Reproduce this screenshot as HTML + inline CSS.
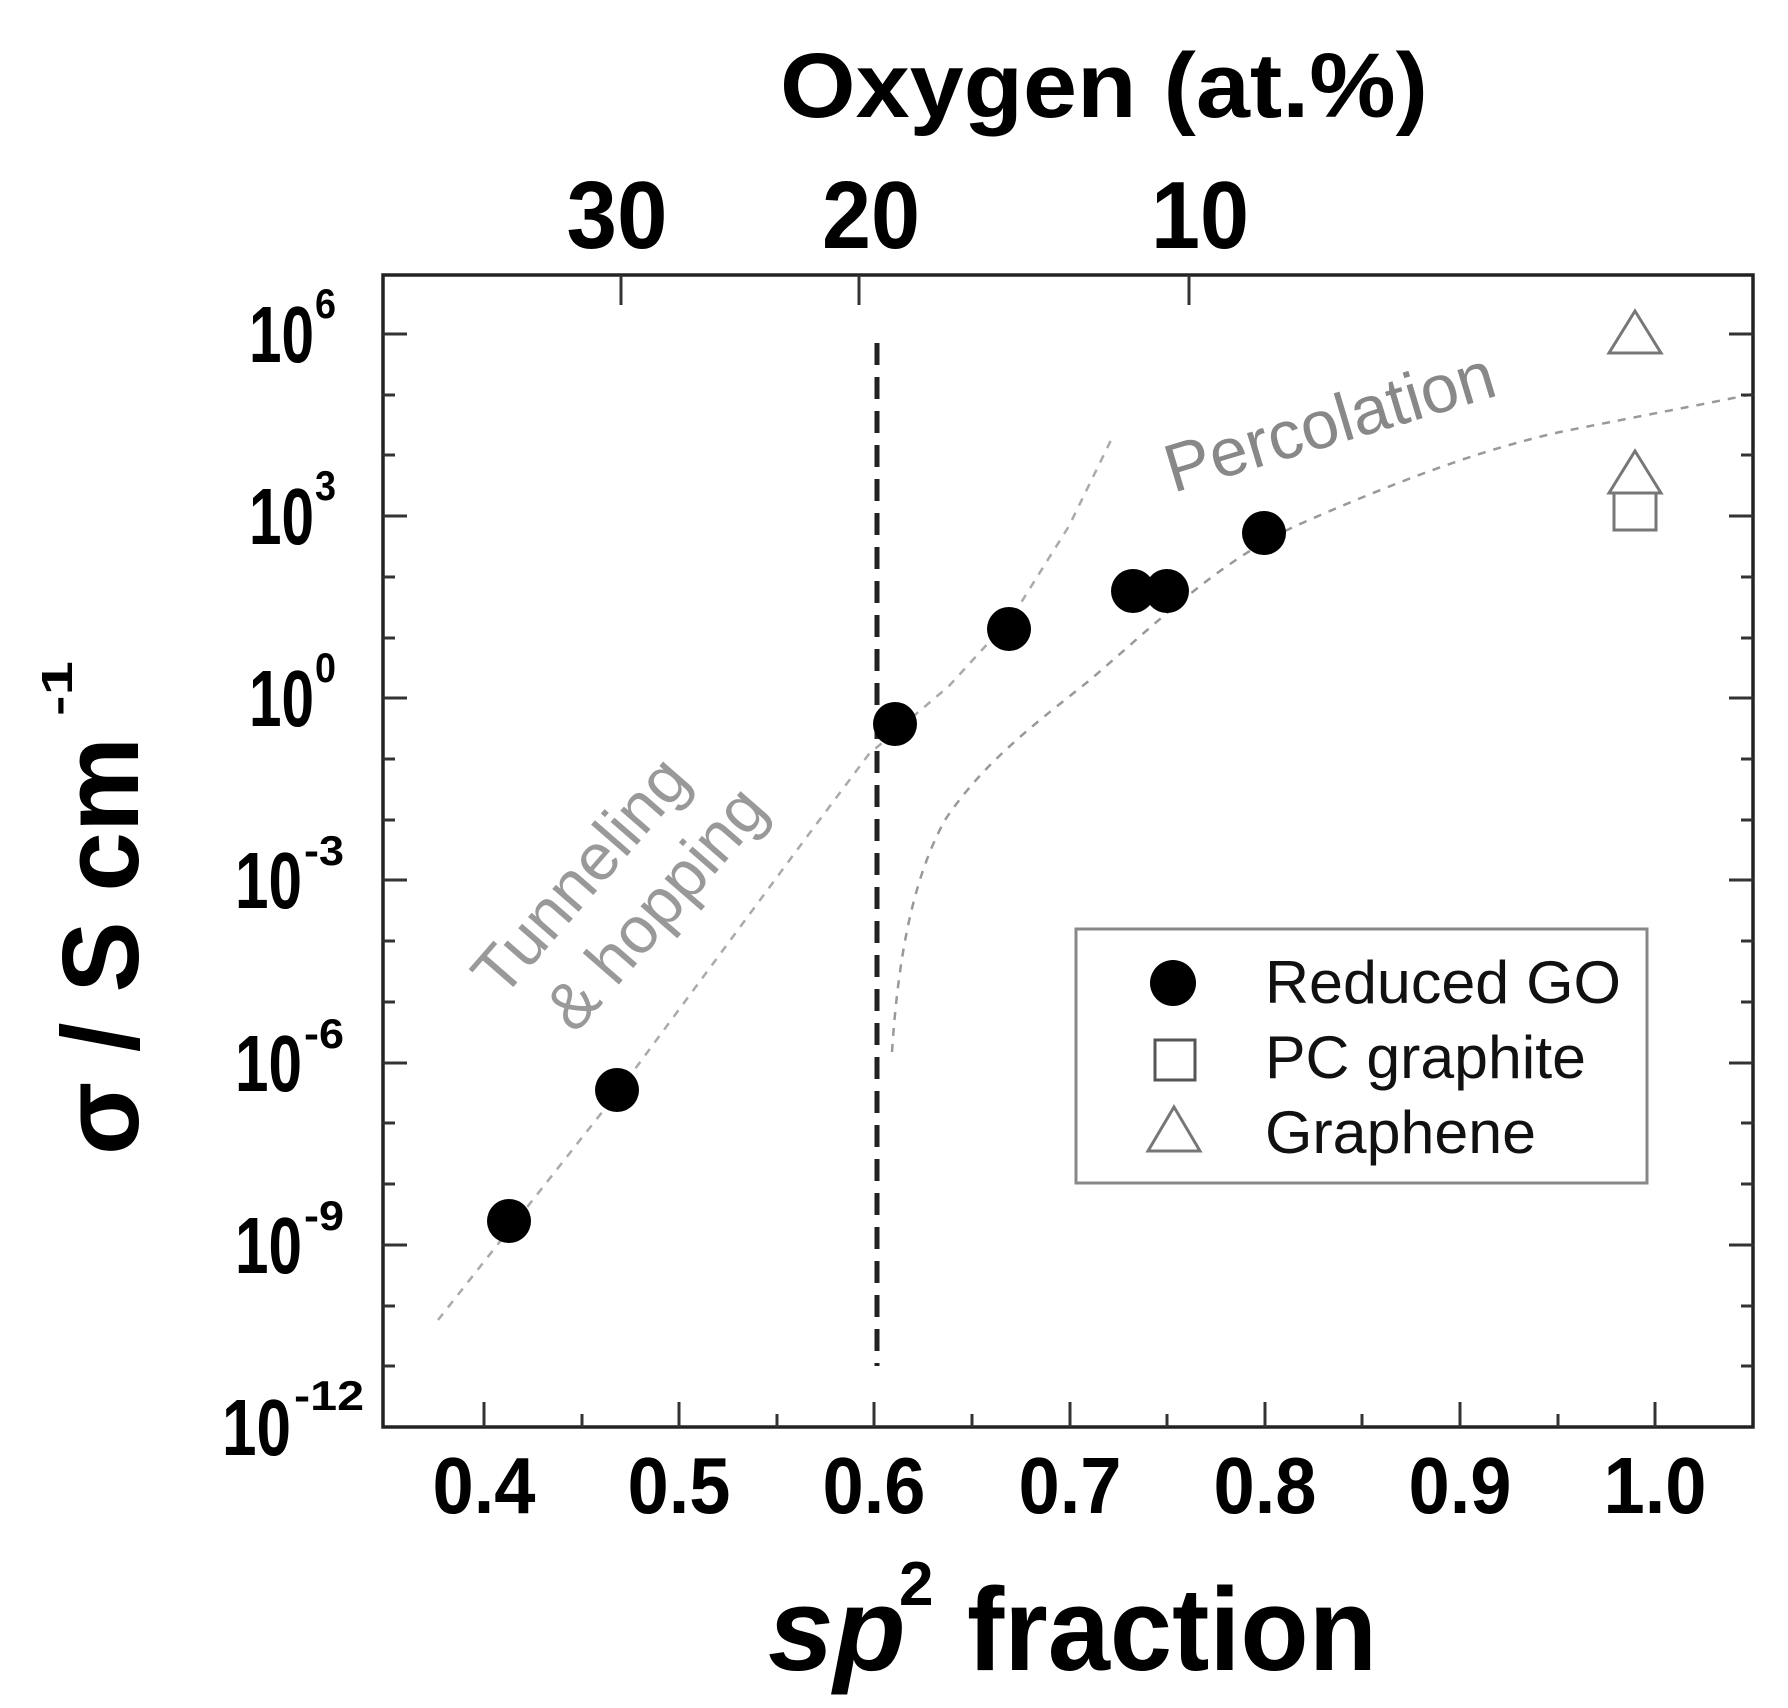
<!DOCTYPE html>
<html><head><meta charset="utf-8"><style>html,body{margin:0;padding:0;background:#fff;}svg{display:block;}</style></head>
<body>
<svg width="1788" height="1708" viewBox="0 0 1788 1708" xmlns="http://www.w3.org/2000/svg" font-family="'Liberation Sans', Arial, sans-serif">
<rect width="1788" height="1708" fill="#fff"/>
<!-- curves -->
<polyline points="438,1320 618,1092 800,846 869,754 949,686 1012,617 1069,526 1114,434" fill="none" stroke="#aaa" stroke-width="2.5" stroke-dasharray="8 8"/>
<path d="M892,1052 C898,960 912,880 945,820 C985,760 1040,720 1090,680 C1160,620 1220,560 1300,524 C1400,480 1480,450 1560,432 C1640,416 1700,405 1753,394" fill="none" stroke="#999" stroke-width="2.5" stroke-dasharray="8 8"/>
<!-- vertical dashed -->
<line x1="877" y1="343" x2="877" y2="1366" stroke="#222" stroke-width="5" stroke-dasharray="22 12"/>
<!-- frame -->
<rect x="383" y="275" width="1370" height="1152" fill="none" stroke="#222" stroke-width="3.5"/>
<g stroke="#333" stroke-width="3">
<path d="M383 334h24M383 516h24M383 698h24M383 880h24M383 1063h24M383 1245h24"/>
<path d="M1753 334h-24M1753 516h-24M1753 698h-24M1753 880h-24M1753 1063h-24M1753 1245h-24"/>
<path d="M383 395h12M383 455h12M383 577h12M383 638h12M383 759h12M383 820h12M383 941h12M383 1002h12M383 1123h12M383 1184h12M383 1306h12M383 1366h12"/>
<path d="M1753 395h-12M1753 455h-12M1753 577h-12M1753 638h-12M1753 759h-12M1753 820h-12M1753 941h-12M1753 1002h-12M1753 1123h-12M1753 1184h-12M1753 1306h-12M1753 1366h-12"/>
<path d="M484 1427v-25M679 1427v-25M874 1427v-25M1070 1427v-25M1265 1427v-25M1460 1427v-25M1655 1427v-25"/>
<path d="M582 1427v-13M777 1427v-13M972 1427v-13M1167 1427v-13M1362 1427v-13M1558 1427v-13"/>
<path d="M621 275v30M859 275v30M1189 275v30"/>
</g>
<!-- data -->
<g fill="#000">
<circle cx="509" cy="1221" r="22"/>
<circle cx="617" cy="1090" r="22"/>
<circle cx="895" cy="724" r="22"/>
<circle cx="1009" cy="629" r="22"/>
<circle cx="1133" cy="591" r="22"/>
<circle cx="1167" cy="591" r="22"/>
<circle cx="1264" cy="533" r="22"/>
</g>
<g fill="none" stroke="#777" stroke-width="3">
<path d="M1635,311 L1661,353 L1609,353 Z"/>
<path d="M1635,451 L1661,493 L1609,493 Z"/>
<rect x="1614" y="493" width="42" height="37"/>
</g>
<!-- legend -->
<rect x="1076" y="929" width="571" height="254" fill="none" stroke="#888" stroke-width="3"/>
<circle cx="1173" cy="983" r="23" fill="#000"/>
<rect x="1155" y="1040" width="40" height="40" fill="none" stroke="#555" stroke-width="3"/>
<path d="M1174,1107 L1200,1151 L1148,1151 Z" fill="none" stroke="#777" stroke-width="3"/>
<g font-size="60" fill="#111">
<text x="1265" y="1003" textLength="356" lengthAdjust="spacingAndGlyphs">Reduced GO</text>
<text x="1265" y="1078" textLength="321" lengthAdjust="spacingAndGlyphs">PC graphite</text>
<text x="1265" y="1153" textLength="271" lengthAdjust="spacingAndGlyphs">Graphene</text>
</g>
<!-- annotations -->
<text transform="translate(1173,493) rotate(-16.7)" font-size="68" fill="#888" textLength="341" lengthAdjust="spacingAndGlyphs">Percolation</text>
<text transform="translate(502,1000) rotate(-49)" font-size="66" fill="#999" textLength="290" lengthAdjust="spacingAndGlyphs">Tunneling</text>
<text transform="translate(575,1035) rotate(-49)" font-size="66" fill="#999" textLength="297" lengthAdjust="spacingAndGlyphs">&amp; hopping</text>
<!-- top axis -->
<text x="780" y="117" font-size="92" font-weight="bold" textLength="648" lengthAdjust="spacingAndGlyphs">Oxygen (at.%)</text>
<g font-size="96" font-weight="bold" text-anchor="middle">
<text x="617" y="248" textLength="101" lengthAdjust="spacingAndGlyphs">30</text>
<text x="871" y="248" textLength="98" lengthAdjust="spacingAndGlyphs">20</text>
<text x="1200" y="248" textLength="98" lengthAdjust="spacingAndGlyphs">10</text>
</g>
<!-- bottom labels -->
<g font-size="80" font-weight="bold" text-anchor="middle">
<text x="484" y="1513" textLength="103" lengthAdjust="spacingAndGlyphs">0.4</text>
<text x="679" y="1513" textLength="103" lengthAdjust="spacingAndGlyphs">0.5</text>
<text x="874" y="1513" textLength="103" lengthAdjust="spacingAndGlyphs">0.6</text>
<text x="1070" y="1513" textLength="103" lengthAdjust="spacingAndGlyphs">0.7</text>
<text x="1265" y="1513" textLength="103" lengthAdjust="spacingAndGlyphs">0.8</text>
<text x="1460" y="1513" textLength="103" lengthAdjust="spacingAndGlyphs">0.9</text>
<text x="1655" y="1513" textLength="103" lengthAdjust="spacingAndGlyphs">1.0</text>
</g>
<!-- y labels -->
<g font-weight="bold">
<g font-size="80">
<text x="249" y="362" textLength="65" lengthAdjust="spacingAndGlyphs">10</text>
<text x="249" y="544" textLength="65" lengthAdjust="spacingAndGlyphs">10</text>
<text x="249" y="726" textLength="65" lengthAdjust="spacingAndGlyphs">10</text>
<text x="235" y="908" textLength="67" lengthAdjust="spacingAndGlyphs">10</text>
<text x="235" y="1091" textLength="67" lengthAdjust="spacingAndGlyphs">10</text>
<text x="235" y="1273" textLength="67" lengthAdjust="spacingAndGlyphs">10</text>
<text x="222" y="1455" textLength="69" lengthAdjust="spacingAndGlyphs">10</text>
</g>
<g font-size="42">
<text x="315" y="318" textLength="21" lengthAdjust="spacingAndGlyphs">6</text>
<text x="315" y="500" textLength="21" lengthAdjust="spacingAndGlyphs">3</text>
<text x="315" y="682" textLength="21" lengthAdjust="spacingAndGlyphs">0</text>
<text x="304" y="865" textLength="40" lengthAdjust="spacingAndGlyphs">-3</text>
<text x="304" y="1048" textLength="40" lengthAdjust="spacingAndGlyphs">-6</text>
<text x="304" y="1230" textLength="40" lengthAdjust="spacingAndGlyphs">-9</text>
<text x="294" y="1410" textLength="70" lengthAdjust="spacingAndGlyphs">-12</text>
</g>
</g>
<!-- y title -->
<text transform="translate(138,1155) rotate(-90)" font-size="109" font-weight="bold" textLength="418" lengthAdjust="spacingAndGlyphs">σ / S cm</text>
<text transform="translate(72,716) rotate(-90)" font-size="44" font-weight="bold" textLength="55" lengthAdjust="spacingAndGlyphs">-1</text>
<!-- x title -->
<text x="768" y="1670" font-size="118" font-weight="bold"><tspan font-style="italic">sp</tspan></text>
<text x="899" y="1605" font-size="62" font-weight="bold">2</text>
<text x="967" y="1670" font-size="118" font-weight="bold" textLength="410" lengthAdjust="spacingAndGlyphs">fraction</text>
</svg>
</body></html>
